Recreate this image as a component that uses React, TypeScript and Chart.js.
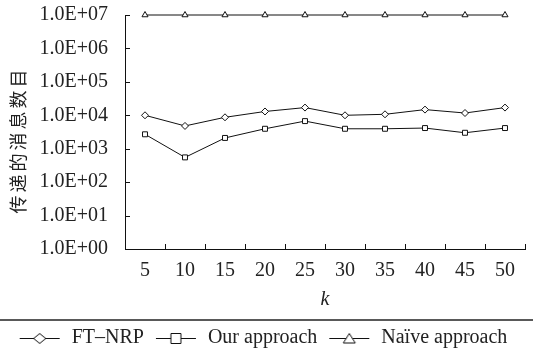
import React, { useEffect, useRef } from "react";
import { Chart, registerables } from "chart.js";

Chart.register(...registerables);

const categories = ["5", "10", "15", "20", "25", "30", "35", "40", "45", "50"];
const ftNrp = [10000, 4800, 8700, 13000, 17000, 10000, 10700, 14800, 11700, 17000];
const ourApproach = [2700, 550, 2100, 3950, 6700, 3950, 3950, 4150, 3000, 4150];
const naiveApproach = [1e7, 1e7, 1e7, 1e7, 1e7, 1e7, 1e7, 1e7, 1e7, 1e7];
const seriesNames = ["FT\u2013NRP", "Our approach", "Na\u00efve approach"];
const seriesStyles = ["rectRot", "rect", "triangle"];
const yExponents = [0, 1, 2, 3, 4, 5, 6, 7];
const yTitle = "传递的消息数目";
const xTitle = "k";

const SERIF = "'Liberation Serif', 'Times New Roman', serif";

function makeLegendIcon(style: string): HTMLCanvasElement {
  const c = document.createElement("canvas");
  c.width = 44;
  c.height = 14;
  const ctx = c.getContext("2d")!;
  ctx.strokeStyle = "#111";
  ctx.lineWidth = 1;
  ctx.beginPath();
  ctx.moveTo(2, 7.5);
  ctx.lineTo(42, 7.5);
  ctx.stroke();
  ctx.fillStyle = "#fff";
  ctx.beginPath();
  const cx = 22, cy = 7.5;
  if (style === "rectRot") {
    ctx.moveTo(cx - 6, cy);
    ctx.lineTo(cx, cy - 5);
    ctx.lineTo(cx + 6, cy);
    ctx.lineTo(cx, cy + 5);
    ctx.closePath();
  } else if (style === "rect") {
    ctx.rect(cx - 5, cy - 5, 10, 10);
  } else {
    ctx.moveTo(cx, cy - 5);
    ctx.lineTo(cx + 6, cy + 4.5);
    ctx.lineTo(cx - 6, cy + 4.5);
    ctx.closePath();
  }
  ctx.fill();
  ctx.stroke();
  return c;
}

const inwardTicks = {
  id: "inwardTicks",
  afterDraw(chart: any) {
    const ctx = chart.ctx;
    const area = chart.chartArea;
    const y = chart.scales.y;
    const x = chart.scales.x;
    ctx.save();
    ctx.strokeStyle = "#111";
    ctx.lineWidth = 1;
    ctx.beginPath();
    y.ticks.forEach((_t: any, i: number) => {
      const py = Math.round(y.getPixelForTick(i)) + 0.5;
      ctx.moveTo(area.left, py);
      ctx.lineTo(area.left + 5, py);
    });
    for (let i = 0; i <= categories.length; i++) {
      const px = Math.round(x.getPixelForValue(i - 0.5)) + 0.5;
      ctx.moveTo(px, area.bottom);
      ctx.lineTo(px, area.bottom - 5);
    }
    ctx.stroke();
    // separator above legend
    const lg = chart.legend;
    ctx.strokeStyle = "#222";
    ctx.lineWidth = 1.5;
    ctx.beginPath();
    ctx.moveTo(0, lg.top + 2);
    ctx.lineTo(chart.width, lg.top + 2);
    ctx.stroke();
    // y title
    ctx.save();
    ctx.translate(18, (area.top + area.bottom) / 2 + 8);
    ctx.rotate(-Math.PI / 2);
    ctx.fillStyle = "#222";
    ctx.font = "18px 'Noto Sans CJK SC', sans-serif";
    (ctx as any).letterSpacing = "3px";
    ctx.textAlign = "center";
    ctx.textBaseline = "middle";
    ctx.fillText(yTitle, 0, 0);
    ctx.restore();
    ctx.restore();
  },
};

export default function App() {
  const ref = useRef<HTMLCanvasElement>(null);
  useEffect(() => {
    document.body.style.margin = "0";
    const icons = seriesStyles.map(makeLegendIcon);
    const mk = (label: string, data: number[], style: string) => ({
      label,
      data,
      borderColor: "#111",
      borderWidth: 1,
      pointStyle: style,
      pointRadius: 3.5,
      pointBorderWidth: 1,
      pointBackgroundColor: "#fff",
      pointBorderColor: "#111",
      tension: 0,
      clip: false as any,
    });
    const chart = new Chart(ref.current!, {
      type: "line",
      data: {
        labels: categories,
        datasets: [
          mk(seriesNames[0], ftNrp, seriesStyles[0]),
          mk(seriesNames[1], ourApproach, seriesStyles[1]),
          mk(seriesNames[2], naiveApproach, seriesStyles[2]),
        ],
      },
      options: {
        animation: false,
        responsive: true,
        maintainAspectRatio: false,
        layout: { padding: { top: 15, right: 8, left: 0, bottom: 0 } },
        plugins: {
          tooltip: { enabled: false },
          legend: {
            position: "bottom",
            labels: {
              usePointStyle: true,
              pointStyleWidth: 44,
              padding: 10,
              color: "#222",
              font: { family: SERIF, size: 20 },
              generateLabels: () =>
                seriesNames.map((n, i) => ({
                  text: n,
                  pointStyle: icons[i] as any,
                  fillStyle: "#fff",
                  strokeStyle: "#111",
                  lineWidth: 0,
                  hidden: false,
                  datasetIndex: i,
                  fontColor: "#222",
                })),
            },
          },
        },
        scales: {
          x: {
            type: "category",
            offset: true,
            grid: { display: false, drawTicks: true, tickLength: 10 },
            border: { display: true, color: "#111", width: 1 },
            afterFit: (scale: any) => {
              scale.height = 69;
            },
            ticks: {
              padding: 0,
              color: "#222",
              font: { family: SERIF, size: 20 },
              maxRotation: 0,
            },
            title: {
              display: true,
              text: xTitle,
              color: "#222",
              font: { family: SERIF, size: 20, style: "italic" },
              padding: { top: 0, bottom: 6 },
            },
          },
          y: {
            type: "logarithmic",
            min: 1,
            max: 1e7,
            grid: { display: false, drawTicks: true, tickLength: 17 },
            border: { display: true, color: "#111", width: 1 },
            afterBuildTicks: (scale: any) => {
              scale.ticks = yExponents.map((e) => ({ value: Math.pow(10, e) }));
            },
            afterFit: (scale: any) => {
              scale.width = 125;
            },
            ticks: {
              padding: 0,
              color: "#222",
              font: { family: SERIF, size: 20 },
              callback: (v: any) => {
                const e = Math.round(Math.log10(Number(v)));
                return "1.0E+" + (e < 10 ? "0" + e : String(e));
              },
            },
          },
        },
      },
      plugins: [inwardTicks],
    });
    return () => chart.destroy();
  }, []);
  return (
    <div style={{ width: 533, height: 358, position: "relative" }}>
      <canvas ref={ref} />
    </div>
  );
}
